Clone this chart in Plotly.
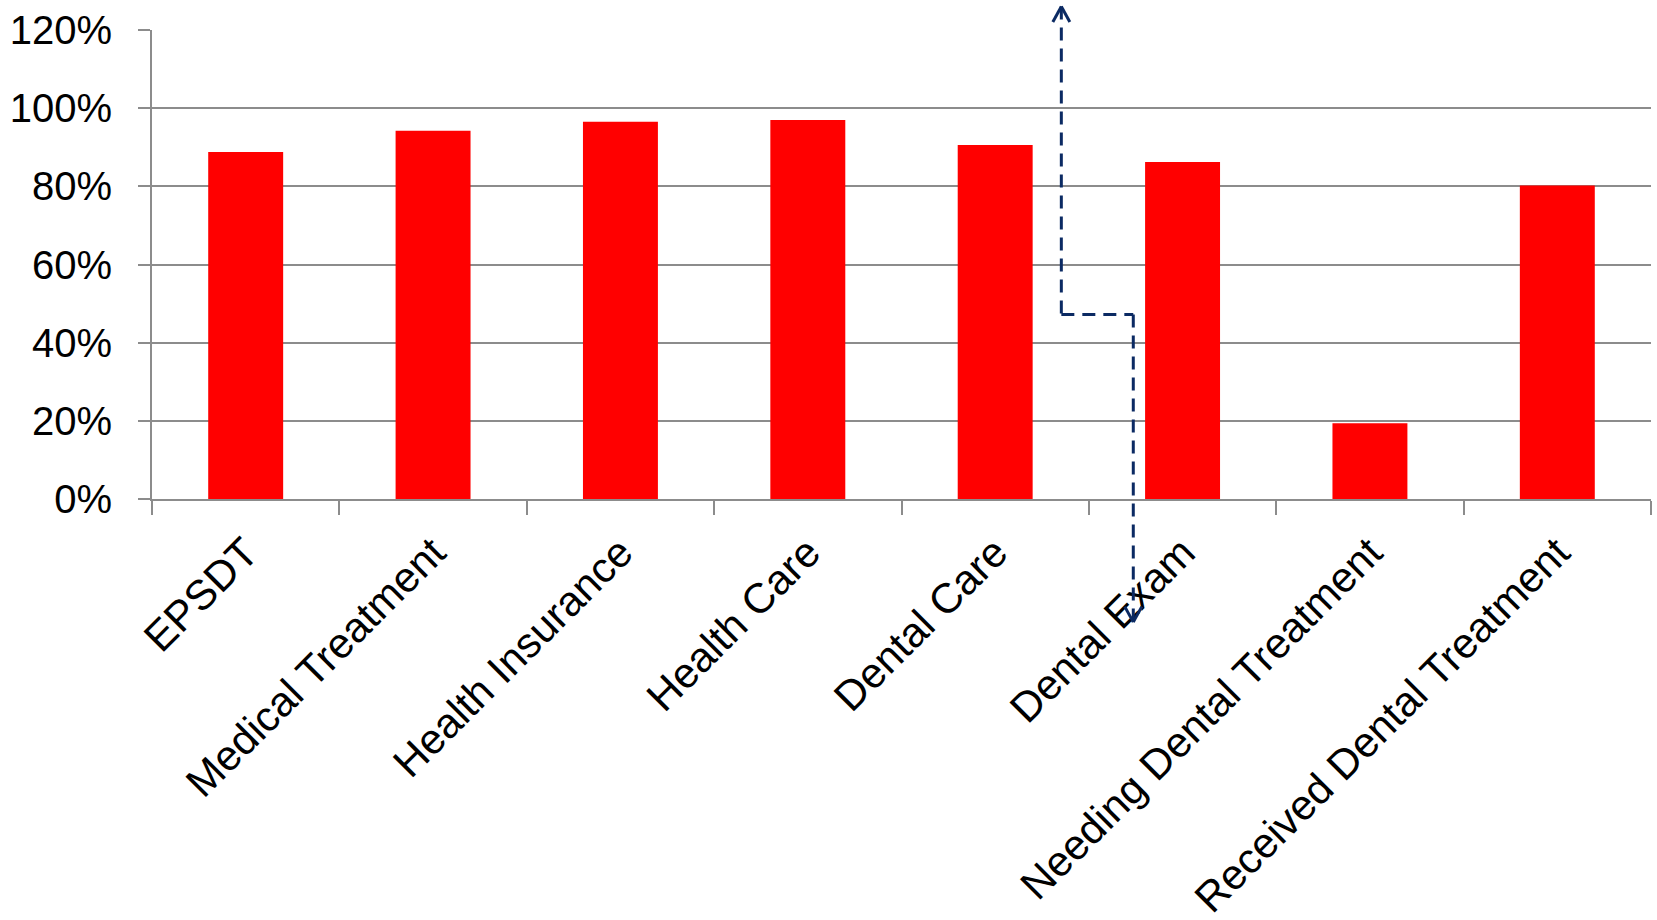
import plotly.graph_objects as go

# Share of children receiving each service
categories = [
    "EPSDT",
    "Medical Treatment",
    "Health Insurance",
    "Health Care",
    "Dental Care",
    "Dental Exam",
    "Needing Dental Treatment",
    "Received Dental Treatment",
]
percent_values = [88.8, 94.2, 96.5, 97.0, 90.6, 86.2, 19.4, 80.2]

y_tick_values = [0, 20, 40, 60, 80, 100, 120]
y_tick_labels = ["0%", "20%", "40%", "60%", "80%", "100%", "120%"]

# Elbow connector (category index units, percent units): up-arrow start, elbow, down-arrow end
connector_x = [4.353, 4.353, 4.737, 4.737]
connector_y = [126.0, 47.2, 47.2, -31.5]

FONT = "Liberation Sans, Arial, sans-serif"
GRID = "#8c8c8c"
NAVY = "#0b2a63"
Y_MAX = 120
N_CAT = len(categories)


def to_paper_x(c):
    return (c + 0.5) / N_CAT


def to_paper_y(v):
    return v / Y_MAX


fig = go.Figure()
fig.add_trace(go.Bar(
    x=categories,
    y=percent_values,
    marker=dict(color="#ff0000", line=dict(width=0)),
    showlegend=False,
))

# dashed connector segments (paper coordinates so they may leave the plot area)
for i in range(len(connector_x) - 1):
    fig.add_shape(
        type="line", xref="paper", yref="paper",
        x0=to_paper_x(connector_x[i]), y0=to_paper_y(connector_y[i]),
        x1=to_paper_x(connector_x[i + 1]), y1=to_paper_y(connector_y[i + 1]),
        line=dict(color=NAVY, width=3, dash="13px,8px"),
        layer="above",
    )


def chevron(cx, cy, direction):
    """Open arrowhead at a connector end; direction +1 points up, -1 down."""
    px, py = to_paper_x(cx), to_paper_y(cy)
    for side in (-1, 1):
        fig.add_shape(
            type="line", xref="paper", yref="paper",
            xsizemode="pixel", ysizemode="pixel",
            xanchor=px, yanchor=py,
            x0=0, y0=0, x1=side * 8.5, y1=-direction * 15.5,
            line=dict(color=NAVY, width=3),
            layer="above",
        )


chevron(connector_x[0], connector_y[0], 1)
chevron(connector_x[-1], connector_y[-1], -1)

fig.update_layout(
    width=1657, height=920,
    margin=dict(l=152, r=6, t=30, b=421, pad=0),
    paper_bgcolor="white", plot_bgcolor="white",
    bargap=0.6,
    font=dict(family=FONT, size=40, color="black"),
)
fig.update_xaxes(
    type="category",
    range=[-0.5, 7.5],
    tickangle=-45,
    tickson="boundaries",
    ticks="outside", ticklen=14, tickcolor=GRID, tickwidth=2,
    showline=True, linecolor=GRID, linewidth=2,
    showgrid=False,
    ticklabelstandoff=10,
    tickfont=dict(family=FONT, size=42, color="black"),
    automargin=False,
)
fig.update_yaxes(
    range=[0, Y_MAX],
    tickvals=y_tick_values, ticktext=y_tick_labels,
    ticks="outside", ticklen=12, tickcolor=GRID, tickwidth=2,
    showline=True, linecolor=GRID, linewidth=2,
    showgrid=True, gridcolor=GRID, gridwidth=2,
    zeroline=False,
    ticklabelstandoff=18,
    tickfont=dict(family=FONT, size=40, color="black"),
    automargin=False,
)

fig.write_html("out.html")
